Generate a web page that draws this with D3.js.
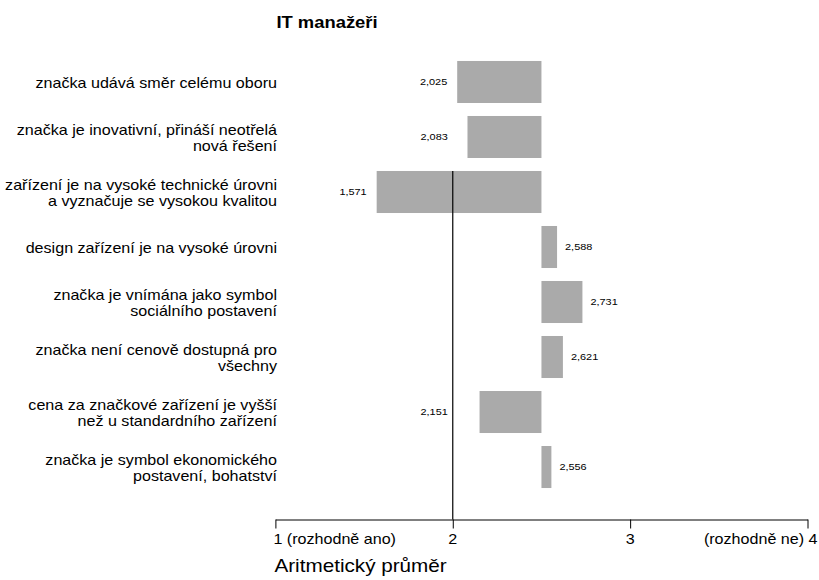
<!DOCTYPE html>
<html>
<head>
<meta charset="utf-8">
<script src="https://cdn.jsdelivr.net/npm/d3@7"></script>
<style>
  body { margin: 0; background: #fff; }
  text { font-family: "Liberation Sans", Arial, sans-serif; fill: #000; }
</style>
</head>
<body>
<div id="container"></div>
<script>
// data we work with
let categories = [
  ["značka udává směr celému oboru"],
  ["značka je inovativní, přináší neotřelá", "nová řešení"],
  ["zařízení je na vysoké technické úrovni", "a vyznačuje se vysokou kvalitou"],
  ["design zařízení je na vysoké úrovni"],
  ["značka je vnímána jako symbol", "sociálního postavení"],
  ["značka není cenově dostupná pro", "všechny"],
  ["cena za značkové zařízení je vyšší", "než u standardního zařízení"],
  ["značka je symbol ekonomického", "postavení, bohatství"]
];
let means = [2.025, 2.083, 1.571, 2.588, 2.731, 2.621, 2.151, 2.556];
let tickValues = [1, 2, 3, 4];
let tickLabels = ["1 (rozhodně ano)", "2", "3", "(rozhodně ne) 4"];
let title = "IT manažeři";
let axisTitle = "Aritmetický průměr";
let midpoint = 2.5;
let refValue = 2;

let w = 819;
let h = 580;
let sx = 1.15; // the picture is a bit stretched sideways

let viz = d3.select("#container")
  .append("svg")
    .attr("width", w)
    .attr("height", h)
;

let x = d3.scaleLinear().domain([1, 4]).range([275.4, 807.5]);
let y = d3.scaleBand()
  .domain(d3.range(means.length))
  .range([48, 501])
  .padding(0.236)
;
let axisY = 519.5;

function stretched(sel, tx, ty) {
  return sel.attr("transform", function(d, i){
    return "translate(" + tx(d, i) + "," + ty(d, i) + ") scale(" + sx + ",1)";
  });
}

// bars from the middle of the scale
viz.selectAll("rect.bar").data(means).enter()
  .append("rect")
    .attr("class", "bar")
    .attr("x", function(d){ return x(Math.min(d, midpoint)); })
    .attr("width", function(d){ return Math.abs(x(d) - x(midpoint)); })
    .attr("y", function(d, i){ return y(i); })
    .attr("height", y.bandwidth())
    .attr("fill", "#aaaaaa")
;

// value labels (left ones kept clear of the reference line)
stretched(viz.selectAll("text.val").data(means).enter()
  .append("text")
    .attr("class", "val")
    .attr("font-size", "9.5px")
    .attr("text-anchor", function(d){ return d < midpoint ? "end" : "start"; })
    .text(function(d){ return d3.format(".3f")(d).replace(".", ","); }),
  function(d){
    return d < midpoint ? Math.min(x(d) - 10, x(refValue) - 5) : x(d) + 8;
  },
  function(d, i){ return y(i) + y.bandwidth() / 2 + 3; }
);

// reference line at 2
viz.append("line")
  .attr("x1", x(refValue)).attr("x2", x(refValue))
  .attr("y1", y(2)).attr("y2", axisY)
  .attr("stroke", "#000")
  .attr("stroke-width", 1.2)
;

// category labels
let labels = viz.selectAll("g.cat").data(categories).enter()
  .append("g")
    .attr("class", "cat")
    .attr("transform", function(d, i){
      return "translate(277," + (y(i) + y.bandwidth() / 2) + ")";
    })
;
labels.each(function(lines){
  let g = d3.select(this);
  stretched(g.selectAll("text").data(lines).enter()
    .append("text")
      .attr("font-size", "14px")
      .attr("text-anchor", "end")
      .text(function(d){ return d; }),
    function(){ return 0; },
    function(d, j){ return 6 + (j - (lines.length - 1) / 2) * 16; }
  );
});

// bottom axis
let axis = d3.axisBottom(x)
  .tickValues(tickValues)
  .tickSize(9)
  .tickSizeOuter(0)
  .tickFormat("")
;
let axisG = viz.append("g")
  .attr("transform", "translate(0," + axisY + ")")
  .call(axis)
;
axisG.select(".domain").attr("stroke", "#000");
axisG.selectAll(".tick line").attr("stroke", "#000");

stretched(viz.selectAll("text.tick").data(tickValues).enter()
  .append("text")
    .attr("class", "tick")
    .attr("font-size", "14px")
    .attr("text-anchor", function(d, i){
      return i == 0 ? "start" : (i == tickValues.length - 1 ? "end" : "middle");
    })
    .text(function(d, i){ return tickLabels[i]; }),
  function(d, i){
    return i == 0 ? x(d) - 2 : (i == tickValues.length - 1 ? x(d) + 10 : x(d));
  },
  function(){ return 543.5; }
);

// axis title
viz.append("text")
  .attr("font-size", "18px")
  .attr("transform", "translate(" + (x(1) - 1) + ",572) scale(" + sx + ",1)")
  .text(axisTitle)
;

// title
viz.append("text")
  .attr("font-size", "16px")
  .attr("font-weight", "bold")
  .attr("transform", "translate(" + (x(1) + 1) + ",28) scale(" + sx + ",1)")
  .text(title)
;
</script>
</body>
</html>
